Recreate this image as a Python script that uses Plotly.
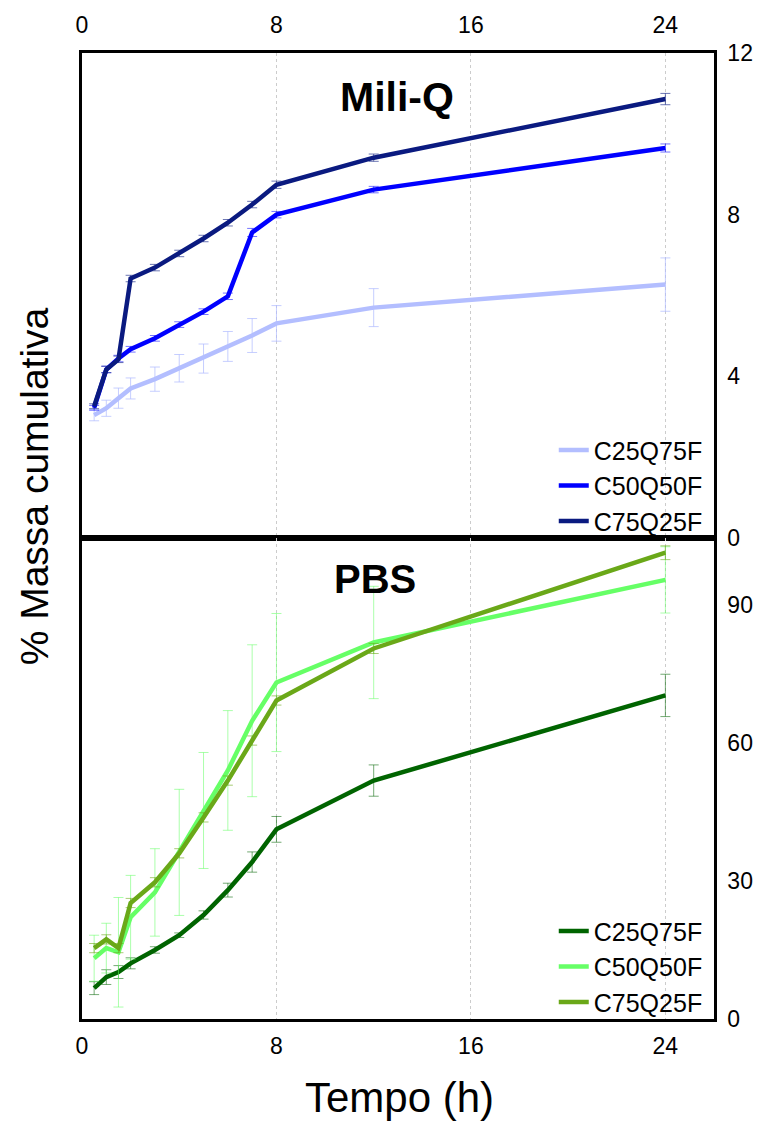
import plotly.graph_objects as go

# Sampling times (h)
tempo = [0.5, 1, 1.5, 2, 3, 4, 5, 6, 7, 8, 12, 24]
series_names = ["C25Q75F", "C50Q50F", "C75Q25F"]

# Mili-Q release (% cumulative mass) and standard deviations
miliq_c25 = [3.04, 3.21, 3.46, 3.70, 3.93, 4.20, 4.44, 4.74, 5.01, 5.31, 5.70, 6.27]
miliq_c50 = [3.22, 4.17, 4.44, 4.67, 4.94, 5.28, 5.60, 5.98, 7.56, 8.00, 8.62, 9.65]
miliq_c75 = [3.26, 4.17, 4.42, 6.42, 6.69, 7.04, 7.41, 7.80, 8.25, 8.74, 9.41, 10.86]
miliq_c25_sd = [0.14, 0.20, 0.25, 0.26, 0.30, 0.34, 0.36, 0.37, 0.42, 0.44, 0.47, 0.66]
miliq_c50_sd = [0.06, 0.08, 0.08, 0.07, 0.07, 0.07, 0.07, 0.08, 0.10, 0.08, 0.08, 0.10]
miliq_c75_sd = [0.06, 0.08, 0.08, 0.08, 0.08, 0.08, 0.08, 0.08, 0.08, 0.09, 0.09, 0.14]

# PBS release (% cumulative mass) and standard deviations
pbs_c25 = [6.7, 9.1, 10.2, 12.1, 15.0, 18.2, 22.6, 28.0, 34.1, 41.2, 51.8, 70.3]
pbs_c50 = [13.2, 15.4, 14.5, 22.1, 27.5, 36.2, 45.3, 54.0, 64.8, 73.1, 81.8, 95.4]
pbs_c75 = [15.4, 17.3, 15.4, 25.2, 29.7, 36.0, 43.8, 51.8, 60.5, 69.2, 80.5, 101.3]
pbs_c25_sd = [1.4, 1.6, 1.4, 1.2, 0.7, 0.5, 0.9, 1.5, 2.2, 2.8, 3.4, 4.6]
pbs_c50_sd = [5.0, 5.4, 11.9, 9.1, 9.5, 13.7, 12.6, 13.0, 16.5, 15.0, 12.2, 7.2]
pbs_c75_sd = [1.0, 1.0, 1.0, 1.0, 1.0, 1.0, 1.0, 1.0, 1.0, 1.0, 1.1, 1.5]

x_ticks = [0, 8, 16, 24]
miliq_ticks = [0, 4, 8, 12]
pbs_ticks = [0, 30, 60, 90]

FONT = "Liberation Sans, Arial, sans-serif"

miliq_colors = ["#b3beff", "#0000ff", "#0a1a80"]
miliq_err = ["rgba(179,190,255,0.75)", "rgba(0,0,255,0.55)", "rgba(10,26,128,0.6)"]
pbs_colors = ["#006400", "#66ff66", "#6aa818"]
pbs_err = ["rgba(0,100,0,0.55)", "rgba(102,255,102,0.55)", "rgba(106,168,24,0.6)"]

fig = go.Figure()

for name, y, sd, col, ecol in zip(series_names,
                                  [miliq_c25, miliq_c50, miliq_c75],
                                  [miliq_c25_sd, miliq_c50_sd, miliq_c75_sd],
                                  miliq_colors, miliq_err):
    fig.add_trace(go.Scatter(
        x=tempo, y=y, name=name, mode="lines",
        line=dict(color=col, width=4.5),
        error_y=dict(type="data", array=sd, color=ecol, thickness=1, width=5),
        xaxis="x", yaxis="y", legend="legend",
    ))

for name, y, sd, col, ecol in zip(series_names,
                                  [pbs_c25, pbs_c50, pbs_c75],
                                  [pbs_c25_sd, pbs_c50_sd, pbs_c75_sd],
                                  pbs_colors, pbs_err):
    fig.add_trace(go.Scatter(
        x=tempo, y=y, name=name, mode="lines",
        line=dict(color=col, width=4.5),
        error_y=dict(type="data", array=sd, color=ecol, thickness=1, width=5),
        xaxis="x2", yaxis="y2", legend="legend2",
    ))

# Layout geometry (pixels)
W, H = 765, 1122
L, R, T, B = 82, 48, 51, 103
plot_w = W - L - R
plot_h = H - T - B
split = 482 / plot_h


def px_x(px):
    return (px - L) / plot_w


def px_y(py):
    return (H - B - py) / plot_h


axis_common = dict(
    showline=True, linecolor="black", linewidth=2.5, mirror=True,
    ticks="", zeroline=False,
    tickfont=dict(family=FONT, size=23, color="black"),
)
x_common = dict(
    domain=[0, 1], range=[0, 26], tickvals=x_ticks, showgrid=True,
    gridcolor="#cccccc", griddash="dot", gridwidth=1, **axis_common,
)

fig.update_layout(
    width=W, height=H,
    margin=dict(l=L, r=R, t=T, b=B),
    paper_bgcolor="white", plot_bgcolor="white",
    font=dict(family=FONT, color="black"),
    xaxis=dict(anchor="y", side="top", ticklabelstandoff=8, **x_common),
    yaxis=dict(
        domain=[split, 1], anchor="x", side="right", range=[0, 12],
        tickvals=miliq_ticks, showgrid=False, ticklabelstandoff=6,
        **axis_common,
    ),
    xaxis2=dict(anchor="y2", side="bottom", ticklabelstandoff=5, **x_common),
    yaxis2=dict(
        domain=[0, split], anchor="x2", side="right", range=[0, 104.5],
        tickvals=pbs_ticks, showgrid=False, ticklabelstandoff=6,
        **axis_common,
    ),
    legend=dict(
        x=px_x(556), y=px_y(426),
        xanchor="left", yanchor="top", bgcolor="rgba(0,0,0,0)",
        font=dict(family=FONT, size=25, color="black"),
        tracegroupgap=0,
    ),
    legend2=dict(
        x=px_x(556), y=px_y(908),
        xanchor="left", yanchor="top", bgcolor="rgba(0,0,0,0)",
        font=dict(family=FONT, size=25, color="black"),
        tracegroupgap=0,
    ),
    annotations=[
        dict(text="<b>Mili-Q</b>", xref="paper", yref="paper",
             x=px_x(398), y=px_y(95), xanchor="center", yanchor="middle",
             showarrow=False, font=dict(family=FONT, size=41, color="black")),
        dict(text="<b>PBS</b>", xref="paper", yref="paper",
             x=px_x(376), y=px_y(578), xanchor="center", yanchor="middle",
             showarrow=False, font=dict(family=FONT, size=40, color="black")),
        dict(text="% Massa cumulativa", xref="paper", yref="paper",
             x=px_x(34), y=px_y(485), xanchor="center", yanchor="middle",
             textangle=-90, showarrow=False,
             font=dict(family=FONT, size=39, color="black")),
        dict(text="Tempo (h)", xref="paper", yref="paper",
             x=px_x(401), y=px_y(1098), xanchor="center", yanchor="middle",
             showarrow=False, font=dict(family=FONT, size=42, color="black")),
    ],
)

fig.write_html("out.html")
